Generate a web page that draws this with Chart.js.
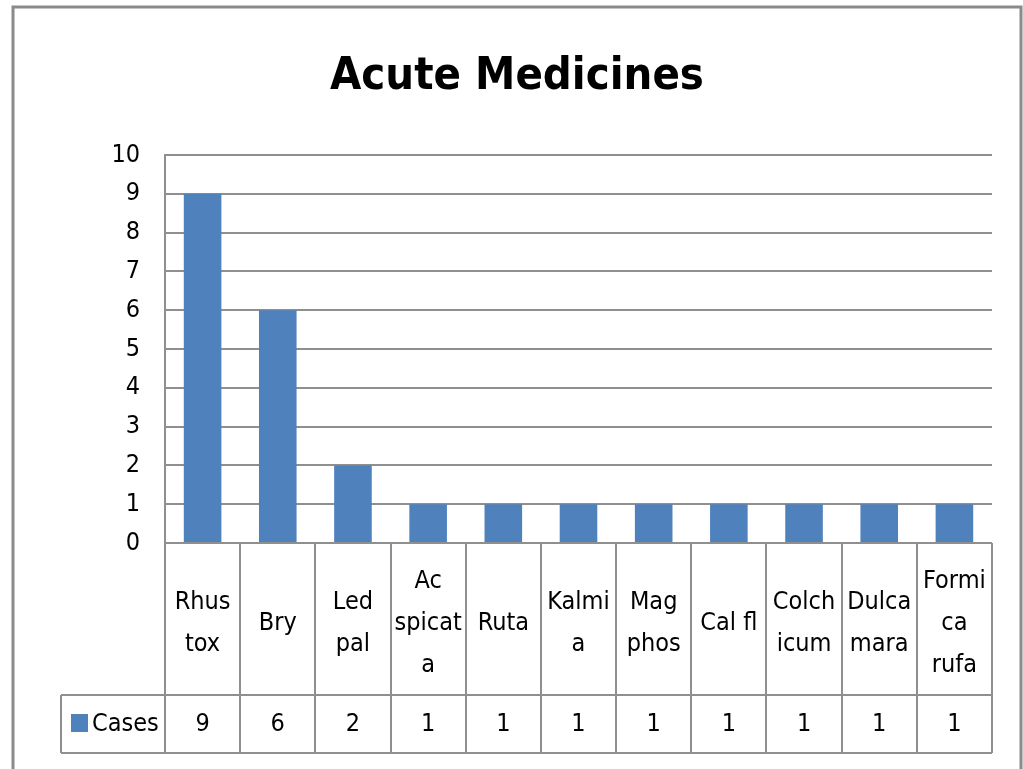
<!DOCTYPE html>
<html>
<head>
<meta charset="utf-8">
<script src="https://cdn.jsdelivr.net/npm/chart.js@4.4.1/dist/chart.umd.min.js"></script>
<style>
  html, body { margin: 0; padding: 0; background: #ffffff; }
  #wrap { width: 1023px; height: 769px; position: relative; }
</style>
</head>
<body>
<div id="wrap"><canvas id="c" width="1023" height="769"></canvas></div>
<script>
const chartTitle = 'Acute Medicines';
const seriesName = 'Cases';
const categories = [
  ['Rhus', 'tox'], 'Bry', ['Led', 'pal'], ['Ac', 'spicat', 'a'], 'Ruta',
  ['Kalmi', 'a'], ['Mag', 'phos'], 'Cal fl', ['Colch', 'icum'], ['Dulca', 'mara'], ['Formi', 'ca', 'rufa']
];
const cases = [9, 6, 2, 1, 1, 1, 1, 1, 1, 1, 1];
const yTicks = [0, 1, 2, 3, 4, 5, 6, 7, 8, 9, 10];

const FONT = "'Liberation Sans Narrow', 'DejaVu Sans Condensed', 'Arial Narrow', sans-serif";
const BAR = '#4F81BD';
const GRID = '#8f8f8f';

const tablePlugin = {
  id: 'dataTable',
  afterDraw(chart) {
    const ctx = chart.ctx;
    const xs = chart.scales.x;
    const area = chart.chartArea;
    const n = categories.length;
    const step = xs.getPixelForValue(1) - xs.getPixelForValue(0);
    const rowTop = 695, rowBottom = 753, legendLeft = 61;
    ctx.save();
    // outer frame
    ctx.strokeStyle = '#8a8a8a';
    ctx.lineWidth = 3;
    ctx.beginPath();
    ctx.moveTo(13, 769); ctx.lineTo(13, 7); ctx.lineTo(1021, 7); ctx.lineTo(1021, 769);
    ctx.stroke();
    // table grid
    ctx.strokeStyle = GRID;
    ctx.lineWidth = 2;
    ctx.beginPath();
    for (let i = 0; i <= n; i++) {
      const x = Math.round(xs.getPixelForValue(i) - step / 2);
      ctx.moveTo(x, area.bottom);
      ctx.lineTo(x, rowBottom);
    }
    ctx.moveTo(legendLeft, rowTop); ctx.lineTo(Math.round(area.right), rowTop);
    ctx.moveTo(legendLeft, rowBottom); ctx.lineTo(Math.round(area.right), rowBottom);
    ctx.moveTo(legendLeft, rowTop); ctx.lineTo(legendLeft, rowBottom);
    ctx.stroke();
    // values
    ctx.fillStyle = '#000';
    ctx.font = '25px ' + FONT;
    ctx.textAlign = 'center';
    ctx.textBaseline = 'middle';
    const cy = (rowTop + rowBottom) / 2;
    cases.forEach((v, i) => {
      ctx.fillText(String(v), xs.getPixelForValue(i), cy);
    });
    // legend key
    ctx.fillStyle = BAR;
    ctx.fillRect(71, 714, 17, 18);
    ctx.fillStyle = '#000';
    ctx.textAlign = 'left';
    ctx.fillText(seriesName, 92, cy);
    ctx.restore();
  }
};

new Chart(document.getElementById('c'), {
  type: 'bar',
  data: {
    labels: categories,
    datasets: [{
      label: seriesName,
      data: cases,
      backgroundColor: BAR,
      borderWidth: 0,
      categoryPercentage: 1.0,
      barPercentage: 0.5
    }]
  },
  options: {
    responsive: false,
    animation: false,
    devicePixelRatio: 1,
    layout: { padding: { left: 42, right: 31, top: 0, bottom: 16 } },
    plugins: {
      legend: { display: false },
      tooltip: { enabled: false },
      title: {
        display: true,
        text: chartTitle,
        color: '#000',
        font: { family: FONT, size: 45, weight: 'bold', lineHeight: 1.2 },
        padding: { top: 50, bottom: 51 }
      }
    },
    scales: {
      x: {
        grid: { display: false, drawTicks: false },
        border: { display: false },
        ticks: {
          color: '#000',
          font: { family: FONT, size: 25, lineHeight: 1.68 },
          maxRotation: 0,
          minRotation: 0,
          autoSkip: false,
          crossAlign: 'center',
          padding: 38
        },
        afterFit(scale) { scale.height = 210; scale.paddingLeft = 0; scale.paddingRight = 0; }
      },
      y: {
        min: 0,
        max: 10,
        afterBuildTicks(scale) { scale.ticks = yTicks.map(v => ({ value: v })); },
        grid: { color: GRID, lineWidth: 2, drawTicks: false },
        border: { display: true, color: GRID, width: 2 },
        ticks: {
          color: '#000',
          font: { family: FONT, size: 25 },
          padding: 25
        },
        afterFit(scale) { scale.width = 123; }
      }
    }
  },
  plugins: [tablePlugin]
});
</script>
</body>
</html>
